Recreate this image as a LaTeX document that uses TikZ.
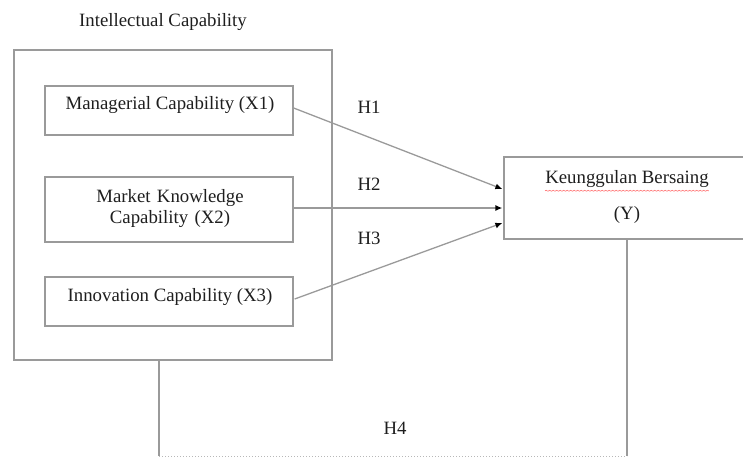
\documentclass[tikz,border=0pt]{standalone}
\usepackage{fontspec}
\setmainfont{Liberation Serif}
\usetikzlibrary{arrows.meta,calc,decorations.pathmorphing}
\definecolor{linegray}{HTML}{9A9A9A}
\definecolor{txt}{HTML}{1E1E1E}
\tikzset{
  boxline/.style={draw=linegray, line width=1.3pt},
  plainbox/.style={boxline, rectangle, inner sep=0pt},
  lbl/.style={text=txt, font=\fontsize{18.8}{22}\selectfont, inner sep=0pt, align=center},
  conn/.style={draw=linegray, line width=1.3pt},
  arr/.style={conn, -{Latex[length=7pt,width=6pt,color=black]}},
  faint/.style={draw=linegray!70, line width=1pt, dotted}
}
\begin{document}
\begin{tikzpicture}[x=1pt,y=-1pt]
\useasboundingbox (0,0) rectangle (743,459);
\clip (0,0) rectangle (743,459);
% title
\node[lbl] (title) at (163,22) {Intellectual Capability};
% outer box
\node[plainbox, minimum width=318, minimum height=310] (outer) at (173,205) {};
% inner boxes
\node[plainbox, minimum width=248, minimum height=49] (x1) at (169,110.5) {};
\node[lbl] (x1t) at (170,105) {Managerial Capability (X1)};
\node[plainbox, minimum width=248, minimum height=65] (x2) at (169,209.5) {};
\node[lbl, text width=248] (x2t) at (170,208) {Market Knowledge\\[-1pt]Capability (X2)};
\node[plainbox, minimum width=248, minimum height=49] (x3) at (169,301.5) {};
\node[lbl] (x3t) at (170,297) {Innovation Capability (X3)};
% Y box
\node[plainbox, minimum width=246, minimum height=82] (y) at (627,198) {};
\node[lbl] (yt1) at (627,179) {Keunggulan Bersaing};
\node[lbl] (yt2) at (627,215) {(Y)};
\draw[red!55, line width=0.6pt, decorate, decoration={snake, amplitude=0.5pt, segment length=3.5pt}]
  ($(yt1.south west)+(0,3)$) -- ($(yt1.south east)+(0,3)$);
% arrows
\draw[arr] ($(x1.east)+(0,-2.5)$) -- ($(y.west)+(-1,-9)$);
\draw[arr] ($(x2.east)+(0,-1.5)$) -- ($(y.west)+(-1,10)$);
\draw[arr] ($(x3.east)+(1,-2.5)$) -- ($(y.west)+(-1,25)$);
% hypothesis labels
\node[lbl] (h1) at (369,107) {H1};
\node[lbl] (h2) at (369,184) {H2};
\node[lbl] (h3) at (369,238) {H3};
\node[lbl] (h4) at (395,428) {H4};
% bottom connector
\coordinate (ls) at ($(outer.south)+(-14,0)$);
\draw[conn] (ls) -- ++(0,95) coordinate (bl);
\draw[conn] (y.south) -- ++(0,216) coordinate (br);
\draw[faint] ($(bl)+(0,1)$) -- ($(br)+(0,1)$);
\end{tikzpicture}
\end{document}
